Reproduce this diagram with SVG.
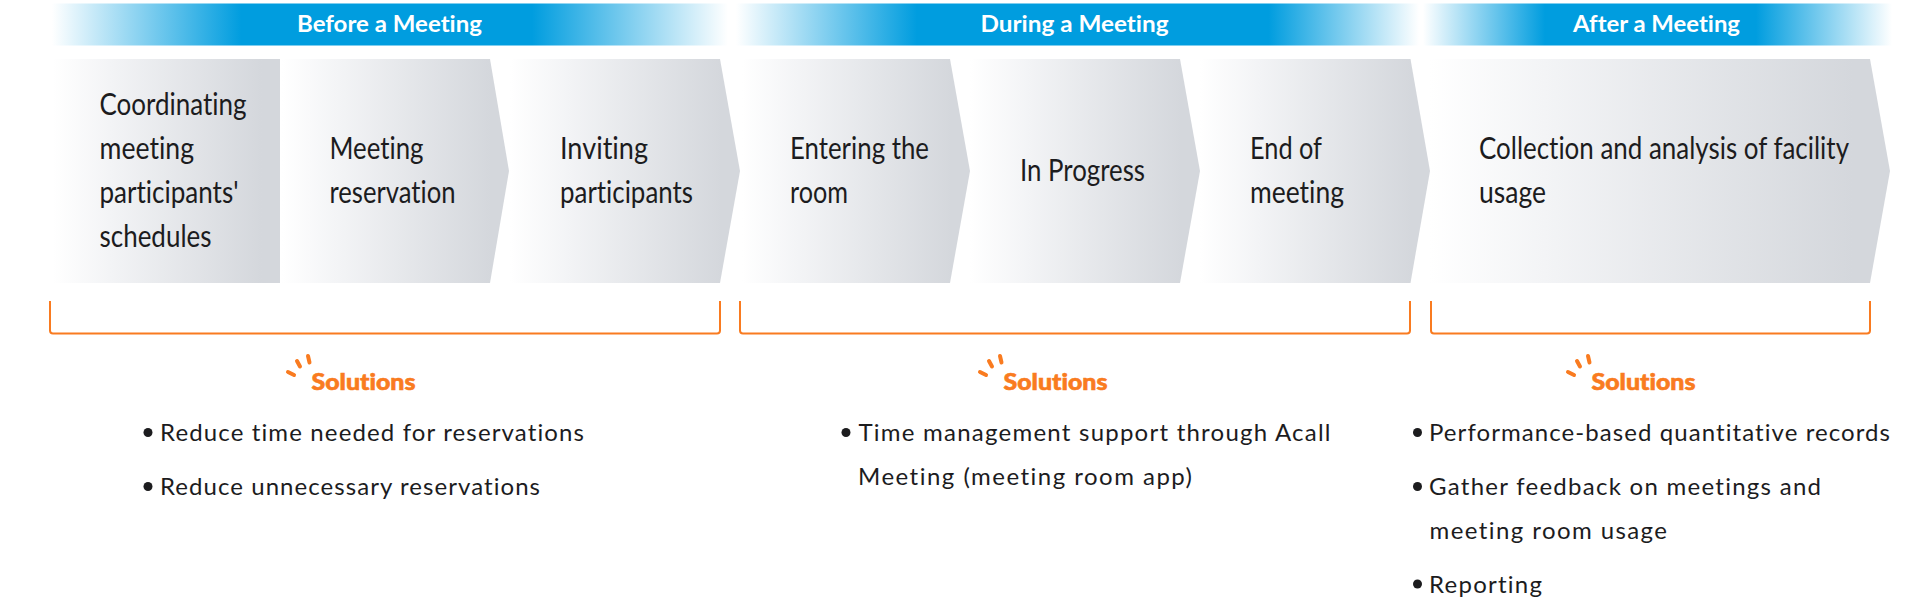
<svg xmlns="http://www.w3.org/2000/svg" width="1920" height="603" viewBox="0 0 1920 603">
<style>
text{font-family:"Lato","Liberation Sans",sans-serif;font-variant-ligatures:none}
.b{fill:#fff;font-size:22px;font-weight:700}
.c{fill:#1c1c1e;font-size:31px}
.s{fill:#f97b20;font-size:23px;font-weight:900;stroke:#f97b20;stroke-width:.6}
.l{fill:#1c1c1e;font-size:24px}
.d{fill:#1c1c1e}
.sp{stroke:#f97b20;stroke-width:4;stroke-linecap:round;fill:none}
.br{stroke:#f97b20;stroke-width:2;fill:none}
</style>
<defs>
<linearGradient id="ch"><stop offset="0" stop-color="#fff"/><stop offset=".25" stop-color="#f3f4f6"/><stop offset=".92" stop-color="#d4d7dc"/></linearGradient>
<linearGradient id="b1"><stop offset="0" stop-color="#fff"/><stop offset=".28" stop-color="#009ddf"/><stop offset=".71" stop-color="#009ddf"/><stop offset="1" stop-color="#fff"/></linearGradient>
<linearGradient id="b2"><stop offset="0" stop-color="#fff"/><stop offset=".265" stop-color="#009ddf"/><stop offset=".78" stop-color="#009ddf"/><stop offset="1" stop-color="#fff"/></linearGradient>
<linearGradient id="b3"><stop offset="0" stop-color="#fff"/><stop offset=".26" stop-color="#009ddf"/><stop offset=".71" stop-color="#009ddf"/><stop offset="1" stop-color="#fff"/></linearGradient>
</defs>
<g id="phase-before"><rect x="52" y="3.5" width="676" height="42" fill="url(#b1)"/><text class="b" x="297" y="32" textLength="185" lengthAdjust="spacingAndGlyphs">Before a Meeting</text></g>
<g id="phase-during"><rect x="736" y="3.5" width="683" height="42" fill="url(#b2)"/><text class="b" x="980.5" y="32" textLength="188" lengthAdjust="spacingAndGlyphs">During a Meeting</text></g>
<g id="phase-after"><rect x="1423" y="3.5" width="469" height="42" fill="url(#b3)"/><text class="b" x="1573" y="32" textLength="167" lengthAdjust="spacingAndGlyphs">After a Meeting</text></g>

<g id="step-1"><rect x="53" y="59" width="227" height="224" fill="url(#ch)"/>
<text class="c" x="99.5" y="115" textLength="147" lengthAdjust="spacingAndGlyphs">Coordinating</text>
<text class="c" x="99.5" y="159" textLength="94.5" lengthAdjust="spacingAndGlyphs">meeting</text>
<text class="c" x="99.5" y="203" textLength="139" lengthAdjust="spacingAndGlyphs">participants'</text>
<text class="c" x="99.5" y="247" textLength="112" lengthAdjust="spacingAndGlyphs">schedules</text></g>
<g id="step-2"><polygon points="282,59 490,59 509,171 490,283 282,283" fill="url(#ch)"/>
<text class="c" x="329.5" y="159" textLength="94" lengthAdjust="spacingAndGlyphs">Meeting</text>
<text class="c" x="329.5" y="203" textLength="126" lengthAdjust="spacingAndGlyphs">reservation</text></g>
<g id="step-3"><polygon points="510,59 720,59 740,171 720,283 510,283" fill="url(#ch)"/>
<text class="c" x="560" y="159" textLength="88" lengthAdjust="spacingAndGlyphs">Inviting</text>
<text class="c" x="560" y="203" textLength="133" lengthAdjust="spacingAndGlyphs">participants</text></g>
<g id="step-4"><polygon points="742,59 950,59 970,171 950,283 742,283" fill="url(#ch)"/>
<text class="c" x="790" y="159" textLength="139" lengthAdjust="spacingAndGlyphs">Entering the</text>
<text class="c" x="790" y="203" textLength="58" lengthAdjust="spacingAndGlyphs">room</text></g>
<g id="step-5"><polygon points="970,59 1180,59 1200,171 1180,283 970,283" fill="url(#ch)"/>
<text class="c" x="1020" y="181" textLength="125" lengthAdjust="spacingAndGlyphs">In Progress</text></g>
<g id="step-6"><polygon points="1200,59 1410.5,59 1430,171 1410.5,283 1200,283" fill="url(#ch)"/>
<text class="c" x="1250" y="159" textLength="72" lengthAdjust="spacingAndGlyphs">End of</text>
<text class="c" x="1250" y="203" textLength="94" lengthAdjust="spacingAndGlyphs">meeting</text></g>
<g id="step-7"><polygon points="1430,59 1870,59 1890,171 1870,283 1430,283" fill="url(#ch)"/>
<text class="c" x="1479" y="159" textLength="370" lengthAdjust="spacingAndGlyphs">Collection and analysis of facility</text>
<text class="c" x="1479" y="203" textLength="67" lengthAdjust="spacingAndGlyphs">usage</text></g>

<g id="connectors">
<path class="br" d="M50 301V330.5Q50 333.5 53 333.5H717Q720 333.5 720 330.5V301"/>
<path class="br" d="M740 301V330.5Q740 333.5 743 333.5H1407Q1410 333.5 1410 330.5V301"/>
<path class="br" d="M1431 301V330.5Q1431 333.5 1434 333.5H1867Q1870 333.5 1870 330.5V301"/>
</g>

<g id="solutions-before">
<path class="sp" d="M288 372L294 375M297 361L300 366.5M308 356L309.5 362.5"/>
<text class="s" x="311.5" y="389.5" textLength="104" lengthAdjust="spacingAndGlyphs">Solutions</text>
<circle class="d" cx="148" cy="432.5" r="4.5"/><text class="l" x="160" y="441" textLength="424">Reduce time needed for reservations</text>
<circle class="d" cx="148" cy="486.5" r="4.5"/><text class="l" x="160" y="495" textLength="380">Reduce unnecessary reservations</text>
</g>
<g id="solutions-during">
<path class="sp" d="M980 372L986 375M989 361L992 366.5M1000 356L1001.5 362.5"/>
<text class="s" x="1003.5" y="389.5" textLength="104" lengthAdjust="spacingAndGlyphs">Solutions</text>
<circle class="d" cx="846" cy="432.5" r="4.5"/><text class="l" x="858.5" y="441" textLength="472">Time management support through Acall</text>
<text class="l" x="858" y="485" textLength="334">Meeting (meeting room app)</text>
</g>
<g id="solutions-after">
<path class="sp" d="M1568 372L1574 375M1577 361L1580 366.5M1588 356L1589.5 362.5"/>
<text class="s" x="1591.5" y="389.5" textLength="104" lengthAdjust="spacingAndGlyphs">Solutions</text>
<circle class="d" cx="1417.5" cy="432.5" r="4.5"/><text class="l" x="1429" y="441" textLength="461">Performance-based quantitative records</text>
<circle class="d" cx="1417.5" cy="486.5" r="4.5"/><text class="l" x="1429" y="495" textLength="392">Gather feedback on meetings and</text>
<text class="l" x="1429.5" y="539" textLength="237.5">meeting room usage</text>
<circle class="d" cx="1417.5" cy="584" r="4.5"/><text class="l" x="1429" y="593" textLength="113">Reporting</text>
</g>
</svg>
